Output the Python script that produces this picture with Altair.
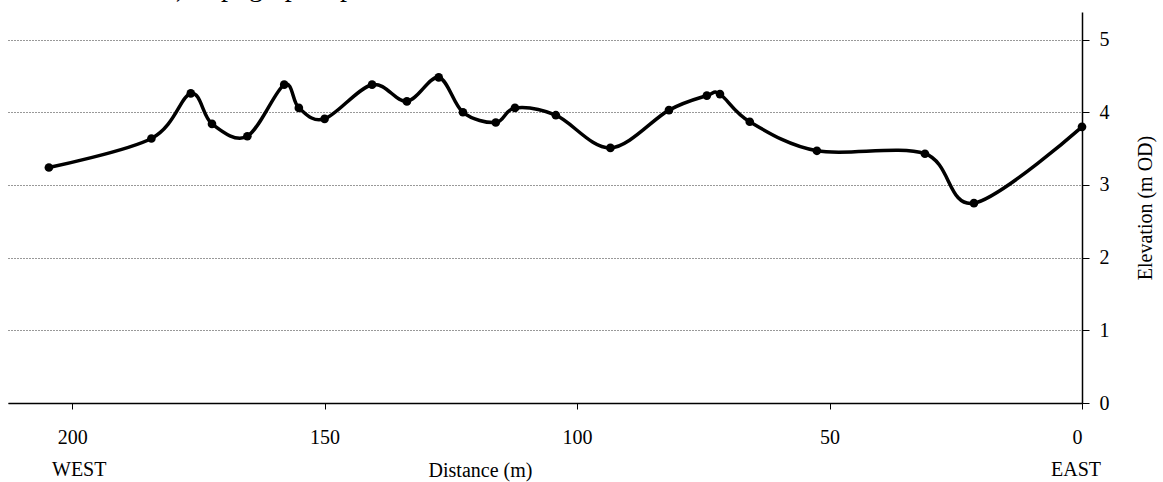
import altair as alt
import pandas as pd

# Surveyed points along the profile (distance from EAST end, elevation m OD)
distance = [204.6, 184.3, 176.5, 172.3, 165.3, 158.0, 155.1, 150.0, 140.6, 133.7,
            127.4, 122.6, 116.1, 112.3, 104.2, 93.4, 81.8, 74.3, 71.7, 65.8,
            52.5, 31.1, 21.4, 0.0]
elevation = [3.24, 3.64, 4.26, 3.84, 3.67, 4.38, 4.06, 3.91, 4.38, 4.15,
             4.48, 4.00, 3.86, 4.06, 3.96, 3.51, 4.03, 4.23, 4.25, 3.87,
             3.47, 3.43, 2.75, 3.80]
x_ticks = [200, 150, 100, 50, 0]
y_ticks = [0, 1, 2, 3, 4, 5]

FONT = "Liberation Serif"
W, H = 1074, 391

df = pd.DataFrame({"distance": distance, "elevation": elevation})

x_enc = alt.X(
    "distance:Q",
    scale=alt.Scale(domain=[0, 212.7], reverse=True, nice=False, zero=False),
    axis=alt.Axis(values=x_ticks, title="Distance (m)", grid=False, tickSize=6,
                  labelPadding=18, titleX=472, titleY=67, titleAlign="center",
                  titleBaseline="middle"),
)
y_enc = alt.Y(
    "elevation:Q",
    scale=alt.Scale(domain=[0, 5.38], nice=False, zero=True),
    axis=alt.Axis(orient="right", values=y_ticks, title="Elevation (m OD)", grid=True,
                  tickSize=7, labelPadding=10, titleAngle=270, titleX=63, titleY=H / 2,
                  titleAlign="center", titleBaseline="middle"),
)

base = alt.Chart(df)
line = base.mark_line(color="black", strokeWidth=3.5, interpolate="cardinal").encode(x=x_enc, y=y_enc)
pts = base.mark_circle(color="black", size=75, opacity=1).encode(x=x_enc, y=y_enc)

west = alt.Chart(pd.DataFrame({"t": ["WEST"]})).mark_text(
    font=FONT, fontSize=20, align="left", baseline="middle", color="black"
).encode(x=alt.value(44), y=alt.value(458), text="t:N")
east = alt.Chart(pd.DataFrame({"t": ["EAST"]})).mark_text(
    font=FONT, fontSize=20, align="center", baseline="middle", color="black"
).encode(x=alt.value(1068), y=alt.value(458), text="t:N")
cut_title = alt.Chart(pd.DataFrame({"t": ["), topographic profile"]})).mark_text(
    font=FONT, fontSize=28, align="left", baseline="alphabetic", color="black"
).encode(x=alt.value(168), y=alt.value(-16), text="t:N")

chart = (
    alt.layer(line, pts, west, east, cut_title)
    .properties(
        width=W, height=H,
        padding={"left": 8, "top": 12, "right": 81, "bottom": 79},
        autosize=alt.AutoSizeParams(type="none"),
        background="white",
    )
    .configure_view(stroke=None)
    .configure_axis(
        labelFont=FONT, titleFont=FONT, labelFontSize=20, titleFontSize=20,
        labelColor="black", titleColor="black", titleFontWeight="normal",
        domainColor="black", tickColor="black", domainWidth=1.5, tickWidth=1,
        gridColor="#333333", gridDash=[1, 2], gridWidth=1,
    )
)

chart.save("out.html", embed_options={"renderer": "svg", "actions": False})
